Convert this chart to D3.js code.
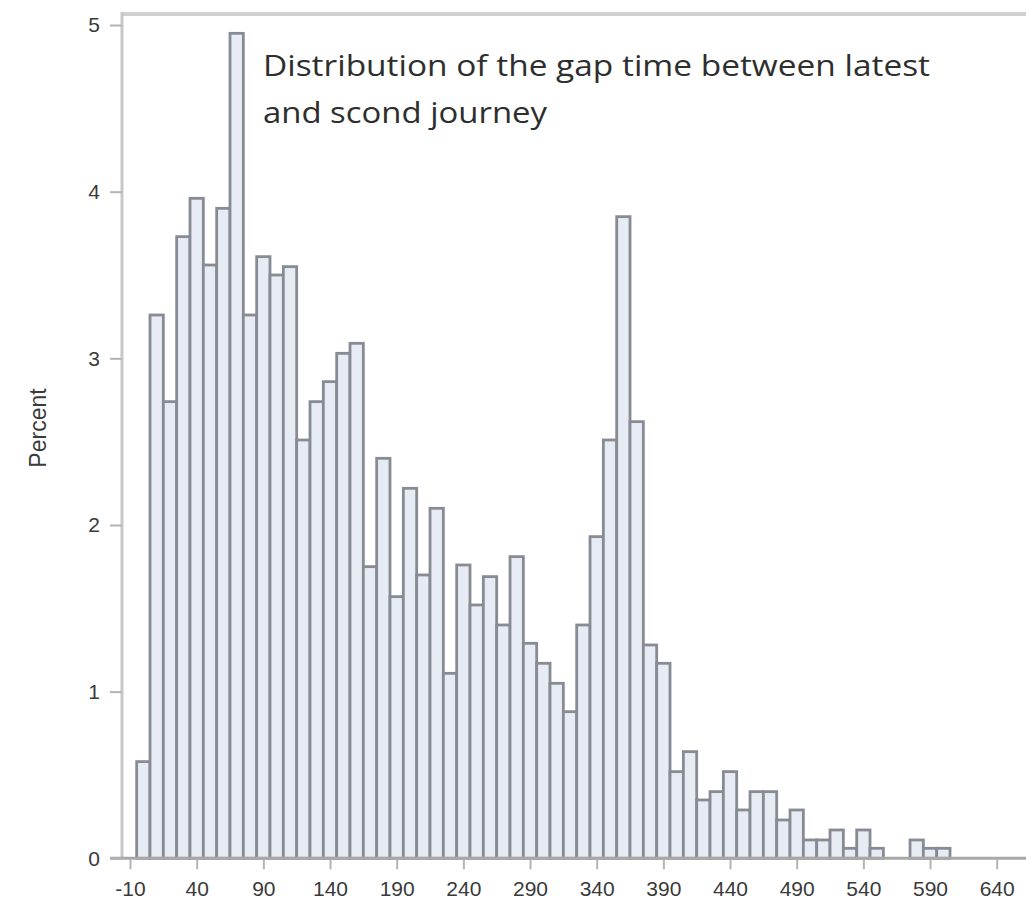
<!DOCTYPE html>
<html lang="en">
<head>
    <meta charset="UTF-8">
    <title>Distribution of the gap time</title>
    <script src="https://d3js.org/d3.v7.min.js"></script>
    <style>
        body { margin: 0; background: white; }
        .axis line { stroke: #b4b4b4; stroke-width: 2; }
        .axis text { font-family: "Liberation Sans", Arial, sans-serif; font-size: 21px; fill: #3a3a3a; }
    </style>
</head>
<body>
    <div id="chart"></div>
    <script>
        var w = 1026;
        var h = 911;

        // bin centres (gap time) and percent per bin
        var binCentres = [0, 10, 20, 30, 40, 50, 60, 70, 80, 90,
                          100, 110, 120, 130, 140, 150, 160, 170, 180, 190,
                          200, 210, 220, 230, 240, 250, 260, 270, 280, 290,
                          300, 310, 320, 330, 340, 350, 360, 370, 380, 390,
                          400, 410, 420, 430, 440, 450, 460, 470, 480, 490,
                          500, 510, 520, 530, 540, 550, 560, 570, 580, 590, 600];
        var percents = [0.58, 3.26, 2.74, 3.73, 3.96, 3.56, 3.90, 4.95, 3.26, 3.61,
                        3.50, 3.55, 2.51, 2.74, 2.86, 3.03, 3.09, 1.75, 2.40, 1.57,
                        2.22, 1.70, 2.10, 1.11, 1.76, 1.52, 1.69, 1.40, 1.81, 1.29,
                        1.17, 1.05, 0.88, 1.40, 1.93, 2.51, 3.85, 2.62, 1.28, 1.17,
                        0.52, 0.64, 0.35, 0.40, 0.52, 0.29, 0.40, 0.40, 0.23, 0.29,
                        0.11, 0.11, 0.17, 0.06, 0.17, 0.06, 0, 0, 0.11, 0.06, 0.06];
        var xTicks = [-10, 40, 90, 140, 190, 240, 290, 340, 390, 440, 490, 540, 590, 640];
        var yTicks = [0, 1, 2, 3, 4, 5];
        var binWidth = 10;

        var titleLines = ["Distribution of the gap time between latest", "and scond journey"];

        var xScale = d3.scaleLinear()
                       .domain([-10, 640])
                       .range([130, 996.7]);

        var yScale = d3.scaleLinear()
                       .domain([0, 5])
                       .range([858.3, 25]);

        var svg = d3.select("#chart")
                    .append("svg")
                    .attr("width", w)
                    .attr("height", h);

        // top frame line
        svg.append("line")
           .attr("x1", 122).attr("x2", w)
           .attr("y1", 14).attr("y2", 14)
           .attr("stroke", "#d0d0d0")
           .attr("stroke-width", 4);

        // left frame line
        svg.append("line")
           .attr("x1", 122).attr("x2", 122)
           .attr("y1", 12).attr("y2", 859)
           .attr("stroke", "#c8c8c8")
           .attr("stroke-width", 3);

        var bars = binCentres.map(function(c, i) { return {c: c, v: percents[i]}; })
                             .filter(function(d) { return d.v > 0; });

        svg.selectAll("rect.bar")
           .data(bars)
           .enter()
           .append("rect")
           .attr("class", "bar")
           .attr("x", function(d) { return xScale(d.c - binWidth / 2); })
           .attr("y", function(d) { return yScale(d.v); })
           .attr("width", function(d) { return xScale(d.c + binWidth / 2) - xScale(d.c - binWidth / 2); })
           .attr("height", function(d) { return yScale(0) - yScale(d.v); })
           .attr("fill", "#e7ebf4")
           .attr("stroke", "#878b94")
           .attr("stroke-width", 2.8);

        // bottom baseline
        svg.append("line")
           .attr("x1", 110).attr("x2", w)
           .attr("y1", yScale(0)).attr("y2", yScale(0))
           .attr("stroke", "#a8a8a8")
           .attr("stroke-width", 3);

        var xAxis = d3.axisBottom(xScale)
                      .tickValues(xTicks)
                      .tickFormat(function(d) { return String(d); })
                      .tickSize(10)
                      .tickPadding(12)
                      .tickSizeOuter(0);

        svg.append("g")
           .attr("class", "axis")
           .attr("transform", "translate(0," + (yScale(0) + 1) + ")")
           .call(xAxis)
           .select(".domain").remove();

        var yAxis = d3.axisLeft(yScale)
                      .tickValues(yTicks)
                      .tickFormat(function(d) { return String(d); })
                      .tickSize(12)
                      .tickPadding(10)
                      .tickSizeOuter(0);

        svg.append("g")
           .attr("class", "axis")
           .attr("transform", "translate(122,0)")
           .call(yAxis)
           .select(".domain").remove();

        // y label
        svg.append("text")
           .attr("transform", "translate(46,428) rotate(-90)")
           .attr("text-anchor", "middle")
           .attr("font-family", "Liberation Sans, Arial, sans-serif")
           .attr("font-size", 23)
           .attr("fill", "#3a3a3a")
           .text("Percent");

        // title
        var titleWidths = [667, 284];
        svg.selectAll("text.title")
           .data(titleLines)
           .enter()
           .append("text")
           .attr("class", "title")
           .attr("x", 263)
           .attr("y", function(d, i) { return 76 + i * 47; })
           .attr("font-family", "Open Sans, sans-serif")
           .attr("font-size", 30)
           .attr("textLength", function(d, i) { return titleWidths[i]; })
           .attr("lengthAdjust", "spacingAndGlyphs")
           .attr("fill", "#2e2e2e")
           .text(function(d) { return d; });
    </script>
</body>
</html>
